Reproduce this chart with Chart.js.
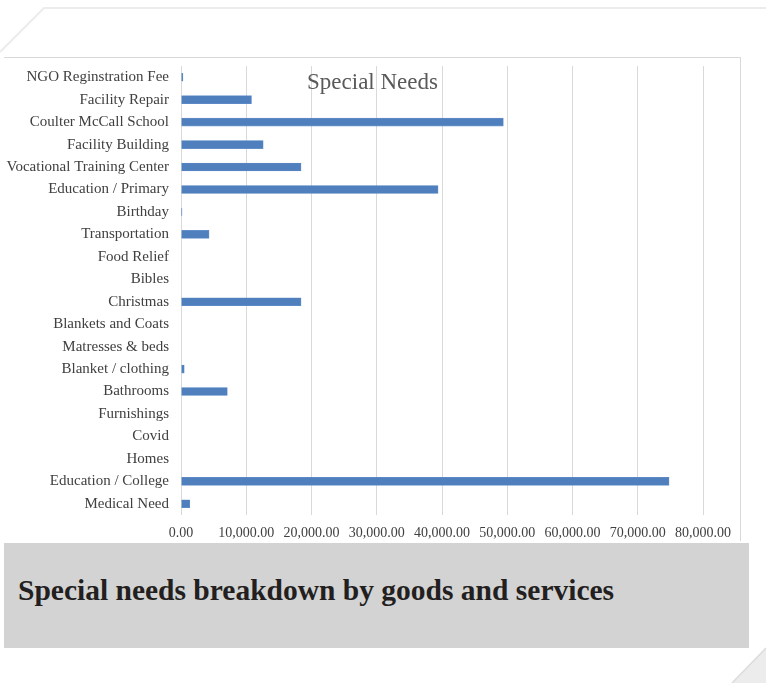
<!DOCTYPE html>
<html>
<head>
<meta charset="utf-8">
<script src="https://cdn.jsdelivr.net/npm/chart.js@4.4.1/dist/chart.umd.min.js"></script>
<style>
  html, body { margin:0; padding:0; background:#ffffff; }
  body { width:766px; height:683px; position:relative; overflow:hidden; font-family:"Liberation Serif", serif; }
  #frame { position:absolute; left:0; top:0; width:766px; height:683px; }
  #box { position:absolute; left:4px; top:57px; width:737px; height:484px; background:#fff;
         border-top:1px solid #d9d9d9; border-right:1px solid #d9d9d9; box-sizing:border-box; }
  #canvasWrap { position:absolute; left:0; top:45px; width:741px; height:496px; }
  #title { position:absolute; left:4px; top:69px; width:737px; text-align:center; font-family:"Liberation Serif", serif;
           font-size:23px; color:#595959; pointer-events:none; }
  #caption { position:absolute; left:4px; top:543px; width:745px; height:105px; background:#d3d3d3; }
  #caption span { position:absolute; left:14px; top:31px; font-family:"Liberation Serif", serif; font-weight:bold;
                  font-size:29.5px; color:#231f20; }
</style>
</head>
<body>
<svg id="frame" width="766" height="683">
  <polyline points="0,52 44,8 766,8" fill="none" stroke="#ececec" stroke-width="2"/>
  <polygon points="766,648 766,683 732,683" fill="#ececec"/>
  <line x1="732" y1="683" x2="766" y2="648" stroke="#dcdcdc" stroke-width="1.5"/>
</svg>
<div id="box"></div>
<div id="canvasWrap"><canvas id="c"></canvas></div>
<div id="title">Special Needs</div>
<div id="caption"><span>Special needs breakdown by goods and services</span></div>
<script>
const categories = [
  "NGO Reginstration Fee",
  "Facility Repair",
  "Coulter McCall School",
  "Facility Building",
  "Vocational Training Center",
  "Education / Primary",
  "Birthday",
  "Transportation",
  "Food Relief",
  "Bibles",
  "Christmas",
  "Blankets and Coats",
  "Matresses & beds",
  "Blanket / clothing",
  "Bathrooms",
  "Furnishings",
  "Covid",
  "Homes",
  "Education / College",
  "Medical Need"
];
const specialNeeds = [300, 10800, 49400, 12600, 18400, 39400, 150, 4300, 0, 0, 18400, 0, 0, 500, 7100, 0, 0, 0, 74800, 1350];
const xTicks = [0, 10000, 20000, 30000, 40000, 50000, 60000, 70000, 80000];

const fmt = v => v.toLocaleString('en-US', {minimumFractionDigits:2, maximumFractionDigits:2});

new Chart(document.getElementById('c'), {
  type: 'bar',
  data: {
    labels: categories,
    datasets: [{
      label: 'Special Needs',
      data: specialNeeds,
      backgroundColor: '#4f7fbd',
      borderColor: '#6a95cc',
      borderWidth: 0.6,
      barThickness: 8
    }]
  },
  options: {
    indexAxis: 'y',
    responsive: true,
    maintainAspectRatio: false,
    animation: false,
    layout: { padding: { top: 7, right: 38, left: 0, bottom: 0 } },
    plugins: { legend: { display: false }, title: { display: false }, tooltip: { enabled: false } },
    scales: {
      x: {
        min: 0, max: 80000,
        afterBuildTicks: s => { s.ticks = xTicks.map(v => ({ value: v })); },
        afterFit: s => { s.height = 26; },
        grid: { color: '#d9d9d9', lineWidth: 1, drawTicks: false },
        border: { display: false },
        ticks: {
          autoSkip: false, maxRotation: 0, minRotation: 0, padding: 10,
          color: '#404040',
          font: { family: 'Liberation Serif', size: 14 },
          callback: v => fmt(v)
        }
      },
      y: {
        afterFit: s => { s.width = 181; },
        grid: { display: false, drawTicks: false },
        border: { display: false },
        ticks: {
          autoSkip: false, padding: 12,
          color: '#404040',
          font: { family: 'Liberation Serif', size: 15 }
        }
      }
    }
  }
});
</script>
</body>
</html>
